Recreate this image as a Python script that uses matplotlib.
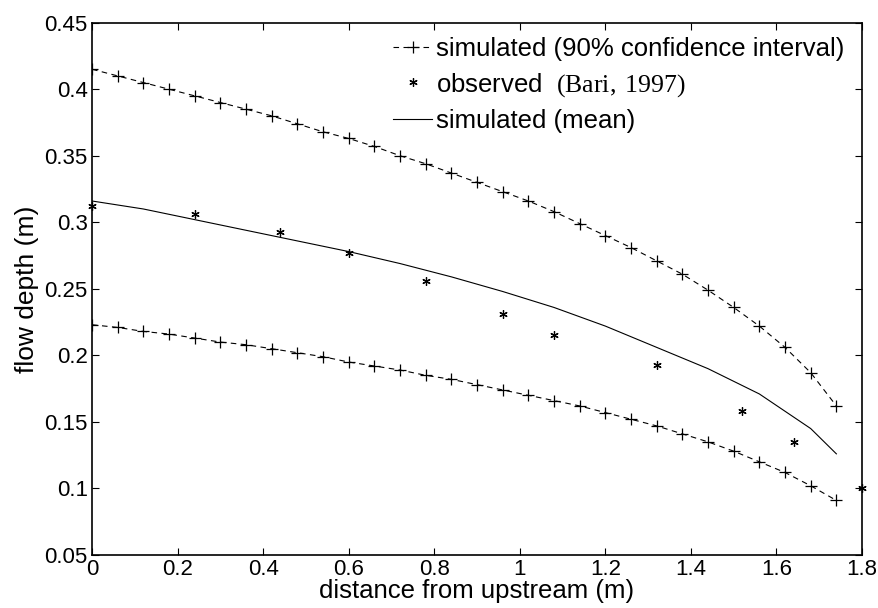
import matplotlib
matplotlib.use('Agg')
import matplotlib.pyplot as plt
import numpy as np

# data
x_ci = [0, 0.06, 0.12, 0.18, 0.24, 0.30, 0.36, 0.42, 0.48, 0.54, 0.60, 0.66, 0.72, 0.78, 0.84,
        0.90, 0.96, 1.02, 1.08, 1.14, 1.20, 1.26, 1.32, 1.38, 1.44, 1.50, 1.56, 1.62, 1.68, 1.74]
upper = [0.415, 0.410, 0.405, 0.400, 0.395, 0.390, 0.385, 0.380, 0.374, 0.368, 0.363, 0.357,
         0.350, 0.344, 0.337, 0.330, 0.323, 0.316, 0.308, 0.299, 0.290, 0.281, 0.271, 0.261,
         0.249, 0.236, 0.222, 0.206, 0.187, 0.162]
lower = [0.223, 0.221, 0.218, 0.216, 0.213, 0.210, 0.208, 0.205, 0.202, 0.199, 0.195, 0.192,
         0.189, 0.185, 0.182, 0.178, 0.174, 0.170, 0.166, 0.162, 0.157, 0.152, 0.147, 0.141,
         0.135, 0.128, 0.120, 0.112, 0.102, 0.091]

x_mean = [0, 0.12, 0.24, 0.36, 0.48, 0.60, 0.72, 0.84, 0.96, 1.08, 1.20, 1.32, 1.44, 1.56, 1.68, 1.74]
mean = [0.316, 0.310, 0.302, 0.294, 0.286, 0.278, 0.269, 0.259, 0.248, 0.236, 0.222, 0.206,
        0.190, 0.171, 0.145, 0.126]

x_obs = [0, 0.24, 0.44, 0.60, 0.78, 0.96, 1.08, 1.32, 1.52, 1.64, 1.80]
obs = [0.312, 0.306, 0.293, 0.277, 0.256, 0.231, 0.215, 0.193, 0.158, 0.135, 0.100]

xtick_labels = ['0', '0.2', '0.4', '0.6', '0.8', '1', '1.2', '1.4', '1.6', '1.8']
ytick_labels = ['0.05', '0.1', '0.15', '0.2', '0.25', '0.3', '0.35', '0.4', '0.45']

plt.rcParams['font.family'] = ['Liberation Sans', 'DejaVu Sans']
plt.rcParams['mathtext.fontset'] = 'custom'
plt.rcParams['mathtext.rm'] = 'Liberation Serif'

fig = plt.figure(figsize=(8.79, 6.08), dpi=100)
ax = fig.add_axes([0.1047, 0.0872, 0.8760, 0.8755])

asterisk = (6, 2, 0)
ax.plot(x_ci, upper, color='black', linestyle='--', dashes=(5, 4), linewidth=0.8,
        marker='+', markersize=9, markeredgewidth=0.9,
        label='simulated (90% confidence interval)')
ax.plot(x_obs, obs, color='black', linestyle='none', marker=asterisk, markersize=6,
        markeredgewidth=0.9, clip_on=False, label=r'observed  $\mathrm{(Bari,\,1997)}$')
ax.plot(x_mean, mean, color='black', linestyle='-', linewidth=0.8, label='simulated (mean)')
ax.plot(x_ci, lower, color='black', linestyle='--', dashes=(5, 4), linewidth=0.8,
        marker='+', markersize=9, markeredgewidth=0.9)

ax.set_xlim(0, 1.8)
ax.set_ylim(0.05, 0.45)
ax.set_xticks(np.arange(0, 1.81, 0.2))
ax.set_xticklabels(xtick_labels)
ax.set_yticks(np.arange(0.05, 0.451, 0.05))
ax.set_yticklabels(ytick_labels)
ax.tick_params(direction='in', top=True, right=True, labelsize=16, length=5, pad=3)
for s in ax.spines.values():
    s.set_linewidth(1.2)

ax.set_xlabel('distance from upstream (m)', fontsize=18.5, labelpad=-1)
ax.set_ylabel('flow depth (m)', fontsize=19, labelpad=4)

ax.legend(loc='upper right', bbox_to_anchor=(0.99, 0.992), frameon=False, fontsize=18.5,
          handlelength=1.5, handletextpad=0.15, labelspacing=0.38, borderaxespad=0.0)

fig.savefig('out.png', dpi=100)
